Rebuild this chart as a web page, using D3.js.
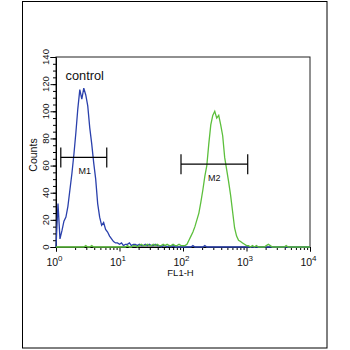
<!DOCTYPE html>
<html><head><meta charset="utf-8">
<script src="https://cdn.jsdelivr.net/npm/d3@7"></script>
<style>body{margin:0;background:#fff}svg{display:block}text{font-family:"Liberation Sans",Arial,sans-serif;fill:#111}</style>
</head><body><svg id="c" width="350" height="350"></svg>
<script>
// histogram bins: 32 bins per decade over 10^0..10^4 (FL1-H)
const binsPerDecade = 32;
const blueCounts = [0,32,6,12,19,22,30,42,54,68,
 84,102,116,109,117,112,104,88,76,62,
 50,32,22,16,18,13,11,8,6,4,
 3,3,2,3,1,2,2,3,1,2,
 2,1,2,1,1,2,1,2,1,1,
 2,1,1,0,1,1,0,1,0,1,
 0,0,0,0,0,0,0,0,0,1,
 0,0,0,0,0,1,0,0,0,0,
 0,0,0,0,0,0,0,0,0,0,
 0,0,0,0,0,0,0,0,0,0,
 0,0,0,0,0,0,0,0,0,0,
 0,0,0,0,0,0,0,0,0,0,
 0,0,0,0,0,0,0,0,0];
const greenCounts = [0,0,0,0,0,0,0,0,0,0,
 0,0,0,0,0,1,0,0,1,0,
 0,0,0,0,0,0,0,0,0,0,
 0,0,0,0,0,0,1,0,0,1,
 1,0,1,2,1,1,2,1,1,2,
 1,2,1,1,2,1,2,1,1,2,
 1,1,2,1,1,1,2,5,8,11,
 15,20,25,33,42,52,60,76,90,97,
 100,95,97,90,82,66,57,48,38,26,
 14,8,5,4,3,2,1,1,0,1,
 0,1,0,0,0,0,1,2,1,0,
 0,0,0,0,0,0,1,0,0,0,
 0,0,0,0,0,0,0,0,0];
const yTicks = [0,20,40,60,80,100,120,140];
const xTicks = [1,10,100,1000,10000];
const xExponents = ["0","1","2","3","4"];
const markers = [
  {label:"M1", from:1.19, to:6.3, level:66},
  {label:"M2", from:93, to:1045, level:61}
];
const sampleLabel = "control";
const xTitle = "FL1-H", yTitle = "Counts";

const svg = d3.select("#c");
const x = d3.scaleLog().domain([1,10000]).range([56,310]);
const y = d3.scaleLinear().domain([0,140]).range([247,57]);

// outer frame
svg.append("rect").attr("x",22.5).attr("y",1.5).attr("width",304.5).attr("height",346.5)
  .attr("fill","none").attr("stroke","#000").attr("stroke-width",1);
// plot frame
svg.append("rect").attr("x",56).attr("y",57).attr("width",254).attr("height",190)
  .attr("fill","none").attr("stroke","#222").attr("stroke-width",1);

// Y axis minor + major
const yMinor = d3.range(0,141,5);
svg.append("g").attr("transform","translate(56,0)")
  .call(d3.axisLeft(y).tickValues(yMinor).tickSize(3).tickFormat(""))
  .call(g=>g.select(".domain").remove());
svg.append("g").attr("transform","translate(56,0)")
  .call(d3.axisLeft(y).tickValues(yTicks).tickSize(5.5).tickFormat(""))
  .call(g=>g.select(".domain").attr("stroke","#000"));
svg.selectAll(".ylab").data(yTicks).enter().append("text")
  .attr("transform",d=>`translate(48.5,${y(d)}) rotate(-90)`)
  .attr("text-anchor","middle").attr("font-size",9.5).text(d=>d);

// X axis minor + major
const xMinor = [];
[1,10,100,1000].forEach(b=>{for(let k=2;k<=9;k++) xMinor.push(b*k);});
svg.append("g").attr("transform","translate(0,247)")
  .call(d3.axisBottom(x).tickValues(xMinor).tickSize(3).tickFormat(""))
  .call(g=>g.select(".domain").remove());
svg.append("g").attr("transform","translate(0,247)")
  .call(d3.axisBottom(x).tickValues(xTicks).tickSize(4.5).tickFormat(""))
  .call(g=>g.select(".domain").attr("stroke","#000"));
xTicks.forEach((t,i)=>{
  const tx = svg.append("text").attr("x",x(t)-1.5).attr("y",265.5)
    .attr("text-anchor","middle").attr("font-size",10.5);
  tx.append("tspan").text("10");
  tx.append("tspan").attr("dy",-4.5).attr("font-size",8).text(xExponents[i]);
});

// titles
svg.append("text").attr("x",180.5).attr("y",276).attr("text-anchor","middle")
  .attr("font-size",9.5).text(xTitle);
svg.append("text").attr("transform","translate(37,155) rotate(-90)")
  .attr("text-anchor","middle").attr("font-size",10.5).text(yTitle);
svg.append("text").attr("x",65.5).attr("y",79.5).attr("font-size",12.8).text(sampleLabel);

// histograms
const line = d3.line().x((d,i)=>x(Math.pow(10,i/binsPerDecade))).y(d=>y(d));
svg.append("path").datum(blueCounts).attr("d",line).attr("fill","none")
  .attr("stroke","#2a40ac").attr("stroke-width",1.3);
svg.append("path").datum(greenCounts).attr("d",line).attr("fill","none")
  .attr("stroke","#5cbf3c").attr("stroke-width",1.3);

// markers
markers.forEach(m=>{
  const g = svg.append("g").attr("stroke","#000").attr("stroke-width",1.2);
  g.append("line").attr("x1",x(m.from)).attr("x2",x(m.to)).attr("y1",y(m.level)).attr("y2",y(m.level));
  [m.from,m.to].forEach(v=>g.append("line").attr("x1",x(v)).attr("x2",x(v))
     .attr("y1",y(m.level)-10).attr("y2",y(m.level)+10));
  svg.append("text").attr("x",(x(m.from)+x(m.to))/2 + (m.label==="M1"?1:0)).attr("y",y(m.level)+17)
    .attr("text-anchor","middle").attr("font-size",9).text(m.label);
});
</script></body></html>
